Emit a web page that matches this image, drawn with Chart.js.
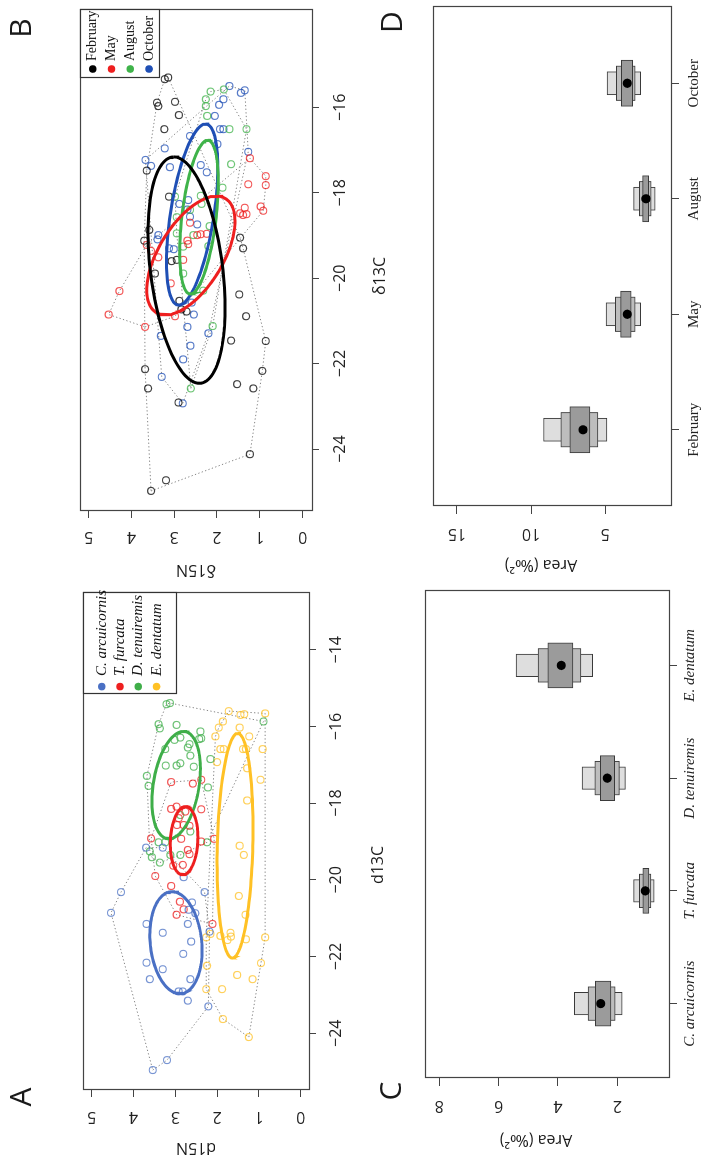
<!DOCTYPE html>
<html>
<head>
<meta charset="utf-8">
<title>Isotopic niches</title>
<script src="https://cdn.jsdelivr.net/npm/chart.js@4.4.1/dist/chart.umd.min.js"></script>
<style>
  html, body { margin: 0; padding: 0; background: #fff; overflow: hidden; }
  /* the figure is laid out landscape and turned a quarter turn to the left */
  #fig { position: absolute; left: 0; top: 0; width: 1156px; height: 704px;
         transform-origin: 0 0; transform: translate(0px, 1156px) rotate(-90deg); }
  #fig canvas { position: absolute; left: 0; top: 0; }
</style>
</head>
<body>
<div id="fig">
  <canvas id="chartA" width="1156" height="704"></canvas>
  <canvas id="chartB" width="1156" height="704"></canvas>
  <canvas id="chartC" width="1156" height="704"></canvas>
  <canvas id="chartD" width="1156" height="704"></canvas>
</div>
<script>
// ---- data ----
const speciesNames = ["C. arcuicornis", "T. furcata", "D. tenuiremis", "E. dentatum"];
const monthNames = ["February", "May", "August", "October"];

// panel A: d13C / d15N by species
const arcuicornisC = [-19.16,-19.16,-19.93,-20.32,-20.32,-20.86,-20.59,-20.78,-20.87,-21.15,-21.15,-21.38,-21.35,-21.61,-21.93,-22.16,-22.33,-22.59,-22.59,-22.91,-22.91,-23.15,-23.30,-24.70,-24.96];
const arcuicornisN = [3.70,3.30,2.80,4.30,2.30,4.54,2.60,2.68,2.52,2.70,3.69,3.30,2.18,2.62,2.81,3.69,3.30,3.61,2.64,2.92,2.82,2.70,2.21,3.20,3.54];
const furcataC = [-17.45,-17.49,-17.39,-18.15,-18.09,-18.16,-18.22,-18.39,-18.57,-18.59,-18.57,-18.92,-18.93,-19.00,-18.93,-19.22,-19.33,-19.63,-19.61,-19.90,-20.16,-20.57,-20.77,-20.91,-21.15];
const furcataN = [3.10,2.58,2.38,3.10,2.97,2.38,2.76,2.92,2.80,2.66,2.96,3.58,2.86,2.38,2.07,2.70,2.66,3.05,2.82,3.48,3.10,2.89,2.80,2.97,2.11];
const tenuiremisC = [-15.42,-15.39,-15.94,-16.05,-15.96,-16.13,-16.33,-16.31,-16.29,-16.35,-16.59,-16.46,-16.55,-16.76,-16.85,-17.02,-17.02,-16.96,-17.05,-17.29,-17.55,-17.59,-18.31,-18.74,-19.02,-19.02,-19.02,-19.26,-19.41,-19.55,-19.35,-19.35,-15.87];
const tenuiremisN = [3.21,3.13,3.40,3.37,2.97,2.40,2.43,2.38,2.88,3.02,3.24,2.66,2.70,2.64,2.16,3.23,2.97,2.88,2.56,3.68,3.64,2.22,2.88,2.64,2.24,3.40,3.24,3.61,3.56,3.37,3.12,2.88,0.89];
const dentatumC = [-15.60,-15.70,-15.68,-15.66,-15.87,-16.03,-16.03,-16.26,-16.26,-16.59,-16.59,-16.59,-16.59,-16.59,-16.93,-17.09,-17.39,-17.93,-19.11,-19.35,-20.42,-20.91,-21.50,-21.41,-21.46,-21.38,-21.48,-21.57,-21.55,-21.50,-22.24,-22.17,-22.48,-22.59,-22.85,-22.85,-23.63,-24.10];
const dentatumN = [1.72,1.44,1.35,0.85,1.86,1.96,1.46,2.04,1.23,1.92,1.84,1.38,1.31,0.91,2.00,1.28,0.96,1.28,1.46,1.36,1.48,1.32,2.26,2.16,1.92,1.68,1.67,1.75,1.31,0.85,2.24,0.95,1.52,1.15,2.26,1.88,1.86,1.24];

// panel B: d13C / d15N by month
const febC = [-15.34,-15.30,-15.89,-15.97,-15.87,-16.18,-16.51,-17.48,-18.09,-18.87,-19.12,-19.05,-19.30,-19.60,-19.57,-19.89,-20.53,-20.73,-20.78,-20.38,-20.89,-21.46,-21.47,-22.13,-22.17,-22.58,-22.48,-22.58,-22.91,-24.12,-24.73,-24.98];
const febN = [3.22,3.14,3.40,3.37,2.98,2.89,3.23,3.64,3.12,3.58,3.70,1.46,1.39,3.06,2.94,3.45,2.88,2.83,2.71,1.48,1.32,1.67,0.86,3.68,0.94,3.61,1.53,1.15,2.90,1.23,3.19,3.54];
const mayC = [-17.19,-17.61,-17.82,-17.80,-18.35,-18.48,-18.52,-18.50,-18.32,-18.42,-18.70,-18.99,-18.97,-18.96,-19.12,-19.20,-19.57,-19.22,-19.36,-19.51,-20.30,-20.85,-21.14,-20.89,-20.12];
const mayN = [1.23,0.86,0.86,1.27,1.35,1.46,1.39,1.31,0.98,0.92,2.63,2.46,2.38,2.24,2.69,2.67,2.79,3.64,3.54,3.37,4.28,4.53,3.68,2.98,3.08];
const augC = [-15.63,-15.81,-15.97,-15.58,-16.20,-16.51,-16.51,-17.33,-17.88,-18.07,-18.09,-18.40,-18.78,-18.99,-18.95,-19.25,-19.89,-18.57,-20.29,-21.12,-22.58,-18.26,-19.26];
const augN = [2.15,2.26,2.26,1.84,2.23,1.71,1.31,1.67,1.87,2.38,2.98,2.63,2.17,2.55,2.94,2.20,2.79,2.94,2.32,2.10,2.61,2.36,2.79];
const octC = [-15.50,-15.66,-15.60,-15.81,-15.94,-16.20,-16.51,-16.51,-16.86,-16.67,-16.96,-17.04,-17.23,-17.37,-17.40,-17.35,-17.52,-18.26,-18.17,-18.39,-18.56,-18.74,-18.99,-19.09,-19.30,-19.32,-20.57,-20.85,-21.14,-21.35,-21.29,-21.58,-21.90,-22.31,-22.93];
const octN = [1.71,1.44,1.35,1.85,1.95,2.05,1.93,1.85,1.99,2.63,3.22,1.27,3.67,3.54,3.10,2.38,2.24,2.88,2.67,2.69,2.63,2.46,3.37,3.39,3.12,3.01,2.59,2.54,2.69,3.31,2.20,2.62,2.79,3.29,2.80];

// standard ellipses: centre, spread along each axis and correlation
const speciesEllC = [-21.64, -18.98, -17.53, -19.11];
const speciesEllN = [2.985, 2.79, 2.98, 1.57];
const speciesSdC = [1.33, 0.89, 1.40, 2.93];
const speciesSdN = [0.625, 0.33, 0.58, 0.43];
const speciesRho = [0.15, -0.10, -0.30, -0.15];
const monthEllC = [-19.81, -19.47, -18.57, -18.51];
const monthEllN = [2.71, 2.61, 2.42, 2.58];
const monthSdC = [2.65, 1.39, 1.80, 2.12];
const monthSdN = [0.90, 1.03, 0.45, 0.60];
const monthRho = [0.33, -0.58, -0.45, -0.52];

// panels C and D: ellipse area, mode and credible intervals
const speciesMode = [2.56, 1.06, 2.34, 3.89];
const species95 = [[1.84,3.45],[0.76,1.45],[1.73,3.19],[2.83,5.41]];
const species75 = [[2.07,2.99],[0.87,1.26],[1.93,2.76],[3.23,4.67]];
const species50 = [[2.22,2.74],[0.94,1.14],[2.09,2.57],[3.50,4.34]];
const monthMode = [6.50, 3.52, 2.26, 3.52];
const month95 = [[4.89,9.16],[2.61,4.94],[1.63,3.09],[2.61,4.87]];
const month75 = [[5.49,7.99],[2.98,4.33],[1.90,2.71],[2.98,4.26]];
const month50 = [[6.03,7.38],[3.25,3.96],[2.08,2.48],[3.15,3.92]];

// tick labels
const d13cTicksA = [-24, -22, -20, -18, -16, -14];
const d13cTicksB = [-24, -22, -20, -18, -16];
const d15nTicks = [0, 1, 2, 3, 4, 5];
const areaTicksC = [2, 4, 6, 8];
const areaTicksD = [5, 10, 15];

// ---- styles ----
const speciesColors = ["#4a70c4", "#ee1f1f", "#3fae49", "#ffc125"];
const monthColors = ["#000000", "#ee1f1f", "#3fb34a", "#1f4fb5"];
const SANS = "'Open Sans', sans-serif";
const SERIF = "'Liberation Serif', serif";
const tickFont = { family: SANS, size: 16 };

function toPoints(xs, ys) {
  return xs.map((x, i) => ({ x: x, y: ys[i] }));
}

// convex hull (monotone chain), closed
function hull(pts) {
  const p = pts.slice().sort((a, b) => a.x - b.x || a.y - b.y);
  const cross = (o, a, b) => (a.x - o.x) * (b.y - o.y) - (a.y - o.y) * (b.x - o.x);
  const lower = [], upper = [];
  for (const q of p) {
    while (lower.length >= 2 && cross(lower[lower.length - 2], lower[lower.length - 1], q) <= 0) lower.pop();
    lower.push(q);
  }
  for (const q of p.slice().reverse()) {
    while (upper.length >= 2 && cross(upper[upper.length - 2], upper[upper.length - 1], q) <= 0) upper.pop();
    upper.push(q);
  }
  lower.pop(); upper.pop();
  const h = lower.concat(upper);
  h.push(h[0]);
  return h;
}

// outline of an ellipse given centre, spreads and correlation
function ellipse(cx, cy, sx, sy, rho) {
  const lag = Math.acos(rho);
  const out = [];
  for (let i = 0; i <= 120; i++) {
    const t = i / 120 * 2 * Math.PI;
    out.push({ x: cx + sx * Math.cos(t), y: cy + sy * Math.cos(t - lag) });
  }
  return out;
}

function withAlpha(hex, a) {
  const n = parseInt(hex.slice(1), 16);
  return `rgba(${n >> 16},${(n >> 8) & 255},${n & 255},${a})`;
}

function axis(min, max, tickVals, o) {
  return {
    type: "linear", min: min, max: max, offset: false,
    afterBuildTicks: s => { s.ticks = tickVals.map(v => ({ value: v })); },
    afterFit: s => { if (o.vertical) s.width = o.size; else s.height = o.size; },
    grid: { display: true, offset: false, drawOnChartArea: false, drawTicks: true,
            tickLength: o.tickLength, color: "#444", lineWidth: 1 },
    border: { display: false },
    ticks: {
      font: o.font || tickFont, color: "#222", padding: o.pad, autoSkip: false,
      minRotation: o.vertical ? 90 : 0, maxRotation: o.vertical ? 90 : 0,
      crossAlign: o.vertical ? "center" : "near",
      callback: o.labels ? (v => o.labels[v - 1]) : (v => String(v).replace("-", "\u2212"))
    }
  };
}

const framePlugin = {
  id: "frame",
  afterDraw(chart) {
    const ca = chart.chartArea, ctx = chart.ctx;
    ctx.save();
    ctx.strokeStyle = "#444";
    ctx.lineWidth = 1.2;
    ctx.strokeRect(Math.round(ca.left) + 0.5, Math.round(ca.top) + 0.5, Math.round(ca.width), Math.round(ca.height));
    ctx.restore();
  }
};

function textPlugin(items) {
  return {
    id: "figText",
    afterDraw(chart) {
      const ctx = chart.ctx;
      items.forEach(t => {
        ctx.save();
        ctx.translate(t.x, t.y);
        ctx.rotate(t.rot || 0);
        ctx.font = t.font;
        ctx.fillStyle = "#1a1a1a";
        ctx.textAlign = "center";
        ctx.textBaseline = "middle";
        ctx.fillText(t.text, 0, 0);
        ctx.restore();
      });
    }
  };
}

function legendPlugin(names, colors, o) {
  return {
    id: "boxLegend",
    afterDraw(chart) {
      const ca = chart.chartArea, ctx = chart.ctx;
      const x0 = Math.round(ca.right - o.w), y0 = Math.round(ca.top);
      ctx.save();
      ctx.fillStyle = "#fff";
      ctx.fillRect(x0, y0, o.w, o.h);
      ctx.strokeStyle = "#333";
      ctx.lineWidth = 1.2;
      ctx.strokeRect(x0 + 0.5, y0 + 0.5, o.w, o.h);
      names.forEach((name, i) => {
        const y = y0 + o.first + i * o.gap;
        ctx.fillStyle = colors[i];
        ctx.beginPath();
        ctx.arc(x0 + o.dot, y, 3.8, 0, Math.PI * 2);
        ctx.fill();
        ctx.fillStyle = "#111";
        ctx.font = o.font;
        ctx.textBaseline = "middle";
        ctx.fillText(name, x0 + o.text, y);
      });
      ctx.restore();
    }
  };
}

function scatterSets(groups, colors, ell) {
  const sets = [];
  groups.forEach((g, i) => {
    const pts = toPoints(g[0], g[1]);
    sets.push({ data: hull(pts), showLine: true, borderColor: "#858585", borderWidth: 1,
                borderDash: [1.3, 2.3], pointRadius: 0, order: 3 });
    sets.push({ data: pts, showLine: false, pointRadius: 3.5, pointBorderWidth: 1.15,
                pointBackgroundColor: "rgba(0,0,0,0)", pointBorderColor: withAlpha(colors[i], 0.75), order: 2 });
    sets.push({ data: ellipse(ell[0][i], ell[1][i], ell[2][i], ell[3][i], ell[4][i]), showLine: true,
                borderColor: colors[i], borderWidth: 3, pointRadius: 0, order: 1 });
  });
  return sets;
}

const common = {
  responsive: false, animation: false, devicePixelRatio: 1, events: [],
  plugins: { legend: { display: false }, tooltip: { enabled: false } }
};

// ---- panel A ----
new Chart(document.getElementById("chartA"), {
  type: "scatter",
  data: { datasets: scatterSets(
    [[arcuicornisC, arcuicornisN], [furcataC, furcataN], [tenuiremisC, tenuiremisN], [dentatumC, dentatumN]],
    speciesColors, [speciesEllC, speciesEllN, speciesSdC, speciesSdN, speciesRho]) },
  options: Object.assign({}, common, {
    layout: { padding: { left: 6, right: 593, top: 83, bottom: 335 } },
    scales: {
      x: axis(-25.48, -12.52, d13cTicksA, { size: 60, tickLength: 7, pad: 10.4 }),
      y: axis(-0.2, 5.21, d15nTicks, { vertical: true, size: 60, tickLength: 7, pad: 15.4 })
    }
  }),
  plugins: [framePlugin,
    legendPlugin(speciesNames, speciesColors, { w: 101, h: 93, first: 18.7, gap: 18.3, dot: 7.4, text: 18, font: `italic 15px ${SERIF}` }),
    textPlugin([
      { text: "A", x: 59, y: 22, font: `30px ${SANS}` },
      { text: "d15N", x: 8.5, y: 196, rot: -Math.PI / 2, font: `16px ${SANS}` },
      { text: "d13C", x: 291, y: 378, font: `16px ${SANS}` }
    ])]
});

// ---- panel B ----
new Chart(document.getElementById("chartB"), {
  type: "scatter",
  data: { datasets: scatterSets(
    [[febC, febN], [mayC, mayN], [augC, augN], [octC, octN]],
    monthColors, [monthEllC, monthEllN, monthSdC, monthSdN, monthRho]) },
  options: Object.assign({}, common, {
    layout: { padding: { left: 585, right: 10, top: 80, bottom: 332 } },
    scales: {
      x: axis(-25.45, -13.72, d13cTicksB, { size: 60, tickLength: 7, pad: 11.4 }),
      y: axis(-0.22, 5.2, d15nTicks, { vertical: true, size: 60, tickLength: 7, pad: 14.4 })
    }
  }),
  plugins: [framePlugin,
    legendPlugin(monthNames, monthColors, { w: 68, h: 79, first: 12.7, gap: 18.8, dot: 9, text: 17, font: `14px ${SERIF}` }),
    textPlugin([
      { text: "B", x: 1128, y: 22, font: `30px ${SANS}` },
      { text: "\u03b415N", x: 586, y: 196, rot: -Math.PI / 2, font: `16px ${SANS}` },
      { text: "\u03b413C", x: 880, y: 380, font: `16px ${SANS}` }
    ])]
});

// ---- panels C and D: credible interval boxes ----
const boxWidths = [0.4, 0.3, 0.2];
const boxFills = ["#9b9b9b", "#bdbdbd", "#dedede"];

function intervalSets(ranges, mode, pxPerUnit) {
  const sets = ranges.map((r, k) => ({
    type: "bar",
    data: r.map((v, i) => ({ x: i + 1, y: v })),
    backgroundColor: boxFills[k], borderColor: "#3a3a3a", borderWidth: 1, borderSkipped: false,
    barThickness: boxWidths[k] * pxPerUnit, grouped: false, order: k + 1
  }));
  sets.push({ type: "scatter", data: mode.map((v, i) => ({ x: i + 1, y: v })),
              pointRadius: 4.6, pointBackgroundColor: "#000", pointBorderWidth: 0, order: 0 });
  return sets;
}

new Chart(document.getElementById("chartC"), {
  type: "bar",
  data: { datasets: intervalSets([species50, species75, species95], speciesMode, 487 / 4.32) },
  options: Object.assign({}, common, {
    layout: { padding: { left: 18, right: 591, top: 425, bottom: 0 } },
    scales: {
      x: axis(0.34, 4.66, [1, 2, 3, 4], { size: 35, tickLength: 8, pad: 4, labels: speciesNames,
                                         font: { family: SERIF, size: 15, style: "italic" } }),
      y: axis(0.26, 8.48, areaTicksC, { vertical: true, size: 60, tickLength: 8, pad: 15.4 })
    }
  }),
  plugins: [framePlugin,
    textPlugin([
      { text: "C", x: 65, y: 392, font: `30px ${SANS}` },
      { text: "Area (\u2030\u00b2)", x: 16.5, y: 536, rot: -Math.PI / 2, font: `16px ${SANS}` }
    ])]
});

new Chart(document.getElementById("chartD"), {
  type: "bar",
  data: { datasets: intervalSets([month50, month75, month95], monthMode, 499 / 4.32) },
  options: Object.assign({}, common, {
    layout: { padding: { left: 590, right: 7, top: 433, bottom: 0 } },
    scales: {
      x: axis(0.34, 4.66, [1, 2, 3, 4], { size: 33, tickLength: 8, pad: 6, labels: monthNames,
                                         font: { family: SERIF, size: 15 } }),
      y: axis(0.57, 16.61, areaTicksD, { vertical: true, size: 60, tickLength: 8, pad: 10.4 })
    }
  }),
  plugins: [framePlugin,
    textPlugin([
      { text: "D", x: 1134, y: 393, font: `30px ${SANS}` },
      { text: "Area (\u2030\u00b2)", x: 591, y: 541, rot: -Math.PI / 2, font: `16px ${SANS}` }
    ])]
});
</script>
</body>
</html>
